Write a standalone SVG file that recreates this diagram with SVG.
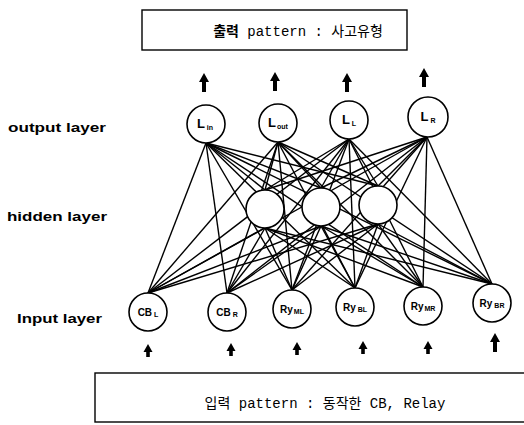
<svg xmlns="http://www.w3.org/2000/svg" width="524" height="425" viewBox="0 0 524 425">
<style>
.box{fill:#fff;stroke:#000;stroke-width:1.4}
.nd{fill:#fff;stroke:#000;stroke-width:1.6}
.ed{stroke:#000;stroke-width:1.4;fill:none}
.lay{font-family:"Liberation Sans",Arial,sans-serif;font-weight:bold;font-size:13px;fill:#000}
.pt{font-family:"Liberation Mono","Noto Sans CJK KR",monospace;font-size:14px;fill:#000}
.ko{font-family:"Noto Sans CJK KR",sans-serif;font-weight:bold}
.nl{font-family:"Liberation Sans",Arial,sans-serif;font-weight:bold;font-size:13px;fill:#000}
.il{font-family:"Liberation Sans",Arial,sans-serif;font-weight:bold;font-size:10px;fill:#000}
.sb{font-size:7px}
.ar{fill:#000}
</style>
<defs>
<path id="arr" d="M0,0 L5,9 L2,9 L2,19 L-2,19 L-2,9 L-5,9 Z"/>
<path id="arr2" d="M0,0 L4.5,8 L1.8,8 L1.8,13 L-1.8,13 L-1.8,8 L-4.5,8 Z"/>
</defs>

<g id="output-box">
<rect class="box" x="142" y="10" width="265" height="40"/>
<text class="pt" x="298" y="36" text-anchor="middle"><tspan class="ko">출력</tspan> pattern : 사고유형</text>
</g>
<g id="input-box">
<rect class="box" x="95" y="373" width="440" height="49"/>
<text class="pt" x="325" y="408" text-anchor="middle">입력 pattern : 동작한 CB, Relay</text>
</g>

<g id="layer-labels">
<text class="lay" x="8" y="132" textLength="98" lengthAdjust="spacingAndGlyphs">output layer</text>
<text class="lay" x="7" y="221" textLength="100" lengthAdjust="spacingAndGlyphs">hidden layer</text>
<text class="lay" x="17" y="323" textLength="85" lengthAdjust="spacingAndGlyphs">Input layer</text>
</g>

<g id="connectors">
<line class="ed" x1="148" y1="293" x2="265" y2="228"/>
<line class="ed" x1="148" y1="293" x2="321" y2="226"/>
<line class="ed" x1="148" y1="293" x2="378" y2="224"/>
<line class="ed" x1="227" y1="293" x2="265" y2="228"/>
<line class="ed" x1="227" y1="293" x2="321" y2="226"/>
<line class="ed" x1="227" y1="293" x2="378" y2="224"/>
<line class="ed" x1="292" y1="290" x2="265" y2="228"/>
<line class="ed" x1="292" y1="290" x2="321" y2="226"/>
<line class="ed" x1="292" y1="290" x2="378" y2="224"/>
<line class="ed" x1="355" y1="288" x2="265" y2="228"/>
<line class="ed" x1="355" y1="288" x2="321" y2="226"/>
<line class="ed" x1="355" y1="288" x2="378" y2="224"/>
<line class="ed" x1="423" y1="287" x2="265" y2="228"/>
<line class="ed" x1="423" y1="287" x2="321" y2="226"/>
<line class="ed" x1="423" y1="287" x2="378" y2="224"/>
<line class="ed" x1="492" y1="284" x2="265" y2="228"/>
<line class="ed" x1="492" y1="284" x2="321" y2="226"/>
<line class="ed" x1="492" y1="284" x2="378" y2="224"/>
<line class="ed" x1="265" y1="190" x2="206" y2="143"/>
<line class="ed" x1="265" y1="190" x2="278" y2="142"/>
<line class="ed" x1="265" y1="190" x2="349" y2="139"/>
<line class="ed" x1="265" y1="190" x2="427" y2="137"/>
<line class="ed" x1="321" y1="188" x2="206" y2="143"/>
<line class="ed" x1="321" y1="188" x2="278" y2="142"/>
<line class="ed" x1="321" y1="188" x2="349" y2="139"/>
<line class="ed" x1="321" y1="188" x2="427" y2="137"/>
<line class="ed" x1="378" y1="186" x2="206" y2="143"/>
<line class="ed" x1="378" y1="186" x2="278" y2="142"/>
<line class="ed" x1="378" y1="186" x2="349" y2="139"/>
<line class="ed" x1="378" y1="186" x2="427" y2="137"/>
<line class="ed" x1="148" y1="293" x2="206" y2="143"/>
<line class="ed" x1="148" y1="293" x2="278" y2="142"/>
<line class="ed" x1="148" y1="293" x2="349" y2="139"/>
<line class="ed" x1="148" y1="293" x2="427" y2="137"/>
<line class="ed" x1="227" y1="293" x2="206" y2="143"/>
<line class="ed" x1="227" y1="293" x2="278" y2="142"/>
<line class="ed" x1="227" y1="293" x2="349" y2="139"/>
<line class="ed" x1="227" y1="293" x2="427" y2="137"/>
<line class="ed" x1="292" y1="290" x2="206" y2="143"/>
<line class="ed" x1="292" y1="290" x2="278" y2="142"/>
<line class="ed" x1="292" y1="290" x2="349" y2="139"/>
<line class="ed" x1="292" y1="290" x2="427" y2="137"/>
<line class="ed" x1="355" y1="288" x2="206" y2="143"/>
<line class="ed" x1="355" y1="288" x2="278" y2="142"/>
<line class="ed" x1="355" y1="288" x2="349" y2="139"/>
<line class="ed" x1="355" y1="288" x2="427" y2="137"/>
<line class="ed" x1="423" y1="287" x2="206" y2="143"/>
<line class="ed" x1="423" y1="287" x2="278" y2="142"/>
<line class="ed" x1="423" y1="287" x2="349" y2="139"/>
<line class="ed" x1="423" y1="287" x2="427" y2="137"/>
<line class="ed" x1="492" y1="284" x2="206" y2="143"/>
<line class="ed" x1="492" y1="284" x2="278" y2="142"/>
<line class="ed" x1="492" y1="284" x2="349" y2="139"/>
<line class="ed" x1="492" y1="284" x2="427" y2="137"/>
<use class="ar" href="#arr" x="204" y="73"/>
<use class="ar" href="#arr" x="275" y="72"/>
<use class="ar" href="#arr" x="347" y="73"/>
<use class="ar" href="#arr" x="424" y="68"/>
<use class="ar" href="#arr2" x="148" y="344"/>
<use class="ar" href="#arr2" x="231" y="343"/>
<use class="ar" href="#arr2" x="297" y="342"/>
<use class="ar" href="#arr2" x="363" y="341"/>
<use class="ar" href="#arr2" x="428" y="341"/>
<use class="ar" href="#arr" x="495" y="333"/>
</g>

<g id="L_in"><circle class="nd" cx="206" cy="124" r="19"/><text class="nl" x="205" y="128" text-anchor="middle">L<tspan class="sb" dx="2" dy="2">in</tspan></text></g>
<g id="L_out"><circle class="nd" cx="278" cy="123" r="19"/><text class="nl" x="278" y="127" text-anchor="middle">L<tspan class="sb" dx="1" dy="2">out</tspan></text></g>
<g id="L_L"><circle class="nd" cx="349" cy="120" r="19"/><text class="nl" x="349" y="124" text-anchor="middle">L<tspan class="sb" dx="2" dy="2">L</tspan></text></g>
<g id="L_R"><circle class="nd" cx="428" cy="117" r="20"/><text class="nl" x="428" y="121" text-anchor="middle">L<tspan class="sb" dx="2" dy="2">R</tspan></text></g>

<g id="hidden1"><circle class="nd" cx="265" cy="209" r="19"/></g>
<g id="hidden2"><circle class="nd" cx="321" cy="207" r="19"/></g>
<g id="hidden3"><circle class="nd" cx="378" cy="205" r="19"/></g>

<g id="CB_L"><circle class="nd" cx="148" cy="312" r="19"/><text class="il" x="148" y="316" text-anchor="middle">CB<tspan class="sb" dx="2" dy="1">L</tspan></text></g>
<g id="CB_R"><circle class="nd" cx="227" cy="312" r="19"/><text class="il" x="227" y="316" text-anchor="middle">CB<tspan class="sb" dx="2" dy="1">R</tspan></text></g>
<g id="Ry_ML"><circle class="nd" cx="292" cy="309" r="19"/><text class="il" x="292" y="313" text-anchor="middle">Ry<tspan class="sb" dx="1" dy="1">ML</tspan></text></g>
<g id="Ry_BL"><circle class="nd" cx="355" cy="307" r="19"/><text class="il" x="355" y="311" text-anchor="middle">Ry<tspan class="sb" dx="2" dy="1">BL</tspan></text></g>
<g id="Ry_MR"><circle class="nd" cx="423" cy="306" r="19"/><text class="il" x="423" y="310" text-anchor="middle">Ry<tspan class="sb" dx="1" dy="1">MR</tspan></text></g>
<g id="Ry_BR"><circle class="nd" cx="492" cy="303" r="19"/><text class="il" x="492" y="307" text-anchor="middle">Ry<tspan class="sb" dx="2" dy="1">BR</tspan></text></g>
</svg>
